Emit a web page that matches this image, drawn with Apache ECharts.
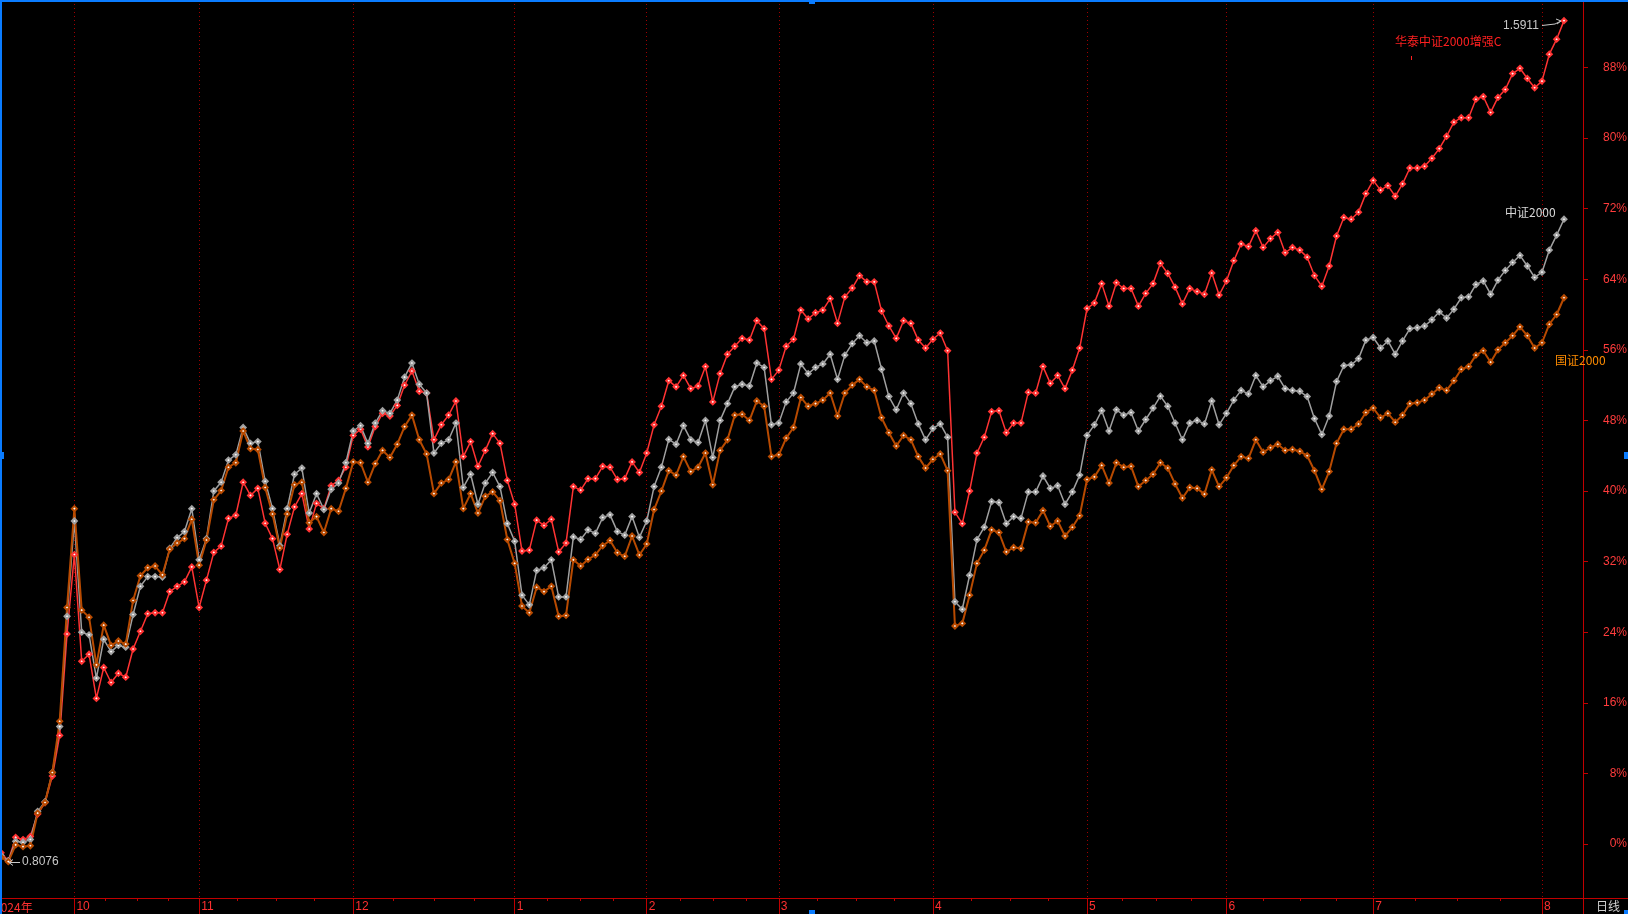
<!DOCTYPE html>
<html><head><meta charset="utf-8">
<script src="https://cdn.jsdelivr.net/npm/echarts@6/dist/echarts.min.js"></script>
<style>html,body{margin:0;padding:0;background:#000;overflow:hidden}#c{width:1628px;height:914px}</style>
</head><body><div id="c"></div>
<script>
// month labels on the x axis and number of trading days shown per month
const monthLabels = ['2024年','10','11','12','1','2','3','4','5','6','7','8'];
const monthDays = [10,17,21,22,18,18,21,21,19,20,23,4];
// y-axis tick values (percent)
const yTicks = [0,8,16,24,32,40,48,56,64,72,80,88];
// series names
const names = ['华泰中证2000增强C','中证2000','国证2000'];
// 华泰中证2000增强C (%)
const huatai = [
-1.0,-1.9,0.75,0.5,0.86,3.4,4.7,7.7,12.3,23.8,
32.8,20.7,21.5,16.5,20.0,18.3,19.35,18.9,22.1,24.1,26.1,26.2,26.2,28.6,29.2,29.7,31.4,
26.8,29.9,33.05,33.75,36.9,37.25,41.0,39.5,40.3,36.35,34.6,31.1,35.1,38.2,39.7,35.7,38.6,38.0,40.6,41.2,42.7,
46.3,47.0,45.0,47.3,48.8,48.5,49.7,52.0,53.6,51.3,51.1,45.8,47.5,48.6,50.2,43.9,45.6,42.8,44.6,46.5,45.4,41.2,
38.5,33.2,33.3,36.7,36.1,36.8,33.1,34.1,40.5,40.1,41.4,41.4,42.8,42.7,41.3,41.4,43.3,42.1,
44.3,47.5,49.6,52.5,51.8,53.1,51.6,51.9,54.1,50.1,53.3,55.5,56.4,57.3,57.1,59.3,58.4,52.65,
53.7,56.4,57.2,60.5,59.5,60.2,60.5,61.8,59.0,62.0,63.0,64.4,63.7,63.7,60.4,58.7,57.3,59.3,59.0,57.1,56.2,
57.2,57.9,55.9,37.6,36.3,40.0,44.3,46.1,49.0,49.1,46.6,47.7,47.7,51.2,51.1,54.1,52.2,53.1,51.6,53.7,56.2,
60.7,61.3,63.5,60.95,63.6,62.95,62.95,60.95,62.4,63.5,65.8,64.65,63.1,61.2,62.95,62.6,62.3,64.7,62.2,
63.8,66.1,68.0,67.7,69.5,67.6,68.6,69.3,67.0,67.6,67.3,66.5,64.4,63.2,65.5,68.9,71.0,70.8,71.6,73.7,
75.2,74.1,74.6,73.4,74.8,76.6,76.6,76.8,77.7,78.8,80.2,81.8,82.3,82.3,84.4,84.7,82.9,84.6,85.5,87.3,87.9,86.75,85.7,
86.45,89.5,91.2,93.3];
// 中证2000 (%)
const csi2000 = [
-1.3,-1.9,0.3,0.2,0.5,3.7,4.8,8.1,13.3,25.8,
36.6,24.0,23.7,18.8,23.2,21.8,22.5,22.3,26.0,29.2,30.3,30.3,30.25,33.5,34.7,35.4,38.0,
32.2,34.6,40.0,41.0,43.5,44.1,47.2,45.4,45.6,41.1,38.0,33.8,38.0,41.9,42.6,37.5,39.7,37.9,40.2,40.9,43.2,
46.8,47.4,45.4,47.7,49.1,48.8,50.3,52.9,54.5,52.1,51.1,44.3,45.4,45.8,47.7,40.4,41.9,38.5,40.9,42.1,40.5,36.3,
34.3,28.2,27.1,31.0,31.3,32.2,28.0,28.0,34.8,34.5,35.6,35.2,37.0,37.3,35.4,35.0,37.1,34.75,
36.6,40.5,42.7,45.85,45.3,47.4,45.8,45.5,48.0,43.8,48.0,49.9,51.8,52.1,51.9,54.5,54.0,47.5,
47.7,50.1,51.1,54.4,53.3,54.0,54.4,55.5,52.65,55.4,56.7,57.6,56.8,57.0,53.8,50.7,49.2,51.1,49.9,47.6,45.8,
47.1,47.6,46.1,27.45,26.6,30.45,34.5,35.9,38.8,38.7,36.3,37.1,36.9,39.9,39.9,41.7,40.3,40.6,38.5,39.9,41.8,
46.3,47.5,49.1,46.8,49.2,48.6,48.9,46.8,48.1,49.4,50.75,49.6,47.7,45.8,47.7,48.0,47.6,50.2,47.5,
48.8,50.3,51.4,51.0,53.1,51.8,52.5,53.0,51.6,51.4,51.3,50.7,48.2,46.4,48.5,52.4,54.2,54.3,55.0,57.1,
57.4,56.2,57.0,55.5,57.0,58.4,58.5,58.7,59.4,60.3,59.6,60.6,61.9,62.0,63.4,63.8,62.3,63.9,65.0,65.9,66.7,65.5,64.2,
64.8,67.3,69.0,70.8];
// 国证2000 (%)
const cn2000 = [
-1.5,-2.0,-0.1,-0.3,-0.2,3.5,4.7,8.1,13.9,26.8,
38.0,26.5,25.7,20.3,24.8,22.5,23.0,22.65,27.6,30.4,31.3,31.5,30.5,33.4,34.1,34.6,36.8,
31.6,34.45,39.0,40.05,42.7,43.2,46.8,44.8,44.7,40.4,37.4,33.55,37.4,40.7,41.0,36.4,37.1,35.3,38.0,37.7,40.3,
43.3,43.2,41.0,43.1,44.6,43.8,45.3,47.3,48.6,45.8,44.2,39.7,40.9,41.3,43.3,38.0,39.7,37.5,39.4,39.9,38.9,34.5,
31.8,26.97,26.2,29.1,28.6,29.2,25.8,25.9,32.2,31.5,32.25,32.75,33.8,34.4,33.0,32.6,34.9,32.75,
34.0,37.9,40.0,42.3,41.8,43.9,42.2,42.7,44.3,40.7,44.6,45.8,48.6,48.7,48.0,50.2,49.6,43.9,
44.1,46.0,47.2,50.6,49.6,49.9,50.3,51.1,48.5,51.1,52.0,52.65,51.8,51.4,48.3,46.6,45.1,46.3,45.8,43.9,42.6,
43.6,44.2,42.3,24.7,25.0,28.2,31.8,33.3,35.6,35.3,33.1,33.6,33.5,36.5,36.4,37.8,36.0,36.6,34.9,35.9,37.2,
41.3,41.6,42.9,40.9,43.2,42.7,42.8,40.5,41.2,41.9,43.2,42.6,40.8,39.2,40.4,40.3,39.65,42.4,40.5,
41.5,42.9,43.9,43.7,45.8,44.4,44.9,45.3,44.6,44.7,44.5,44.0,42.3,40.2,42.2,45.4,47.0,47.0,47.6,48.9,
49.4,48.3,48.8,47.8,48.6,49.9,50.0,50.3,51.0,51.7,51.4,52.5,53.8,54.1,55.4,55.9,54.6,56.0,56.8,57.6,58.6,57.6,56.2,
56.8,58.9,60.0,61.9];
// price annotations
const maxLabel = '1.5911';
const minLabel = '0.8076';
const periodLabel = '日线';

// build categories and month-start indices
const categories = [];
const monthStart = [];
let idx = 0;
monthDays.forEach((n, m) => {
  monthStart.push(idx);
  for (let k = 0; k < n; k++) { categories.push(monthLabels[m] + '-' + (k + 1)); idx++; }
});
const startSet = new Set(monthStart.slice(1));
const labelOf = {};
monthStart.forEach((s, m) => { labelOf[s] = monthLabels[m]; });
// quarter-month minor ticks (Oct..Jul)
const quarterTicks = [];
for (let m = 1; m < monthStart.length - 1; m++) {
  const s = monthStart[m], e = monthStart[m + 1];
  for (let k = 1; k < 4; k++) quarterTicks.push(s + k * (e - s) / 4);
}

const RED = '#ff3333', GRAY = '#a0a0a0', ORANGE = '#b84a00';
const AXIS = '#c00000';
const FONT = 'Liberation Sans, Noto Sans CJK SC, sans-serif';
const CJK = 'Noto Sans CJK SC, sans-serif';

function mkSeries(name, data, color, w) {
  return {
    name, type: 'line', data, xAxisIndex: 0, yAxisIndex: 0,
    symbol: 'diamond', symbolSize: 5, showSymbol: true, showAllSymbol: true,
    lineStyle: { color, width: w },
    itemStyle: { color: '#ffffff', borderColor: color, borderWidth: 2 },
    emphasis: { disabled: true }, silent: true
  };
}

const chart = echarts.init(document.getElementById('c'), null, { renderer: 'canvas' });
chart.setOption({
  backgroundColor: '#000000',
  animation: false,
  grid: { left: 1, right: 64, top: 0, bottom: 16, containLabel: false, outerBoundsMode: 'none' },
  xAxis: [{
    type: 'category', data: categories, boundaryGap: false, position: 'bottom',
    axisLine: { show: true, onZero: false, lineStyle: { color: AXIS, width: 1 } },
    axisTick: { show: true, interval: (i) => startSet.has(i), length: 16, lineStyle: { color: AXIS } },
    axisLabel: {
      show: true, interval: (i) => startSet.has(i), formatter: (v, i) => labelOf[i] || '',
      color: '#ff3030', fontSize: 12, fontFamily: FONT, align: 'left', margin: 3, padding: [0, 0, 0, 2]
    },
    splitLine: { show: true, interval: (i) => startSet.has(i), lineStyle: { color: '#a00000', width: 1, type: [1, 3] } }
  }, {
    type: 'value', min: 0, max: categories.length - 1, position: 'bottom',
    axisLine: { show: false, onZero: false },
    axisTick: { show: true, customValues: quarterTicks, length: 3, lineStyle: { color: AXIS } },
    axisLabel: { show: false },
    splitLine: { show: false }
  }],
  yAxis: [{
    type: 'value', position: 'right', offset: 19, min: -6.12, max: 95.64,
    axisLine: { show: true, onZero: false, lineStyle: { color: AXIS, width: 1 } },
    axisTick: { show: true, customValues: yTicks, length: 5, lineStyle: { color: AXIS } },
    axisLabel: { show: true, customValues: yTicks, formatter: '{value}%', color: '#ff3c3c', fontSize: 12, fontFamily: FONT, align: 'right', margin: 44 },
    splitLine: { show: false }
  }],
  series: [
    mkSeries(names[0], huatai, RED, 1.5),
    mkSeries(names[1], csi2000, GRAY, 1.5),
    mkSeries(names[2], cn2000, ORANGE, 2)
  ],
  graphic: [
    // blue selection frame
    { type: 'rect', shape: { x: 0, y: 0, width: 2, height: 914 }, style: { fill: '#0a7cff' }, z: 100 },
    { type: 'rect', shape: { x: 0, y: 0, width: 1628, height: 2 }, style: { fill: '#0a7cff' }, z: 100 },
    { type: 'rect', shape: { x: 0, y: 452, width: 4, height: 7 }, style: { fill: '#0a7cff' }, z: 100 },
    { type: 'rect', shape: { x: 1624, y: 452, width: 4, height: 7 }, style: { fill: '#0a7cff' }, z: 100 },
    { type: 'rect', shape: { x: 809, y: 0, width: 6, height: 4 }, style: { fill: '#0a7cff' }, z: 100 },
    { type: 'rect', shape: { x: 809, y: 910, width: 6, height: 4 }, style: { fill: '#0a7cff' }, z: 100 },
    { type: 'rect', shape: { x: 1624, y: 910, width: 4, height: 4 }, style: { fill: '#0a7cff' }, z: 100 },
    // full-width bottom rule and divider
    { type: 'line', shape: { x1: 0, y1: 898.5, x2: 1628, y2: 898.5 }, style: { stroke: AXIS, lineWidth: 1 }, z: 50 },
    { type: 'line', shape: { x1: 1583.5, y1: 898, x2: 1583.5, y2: 914 }, style: { stroke: AXIS, lineWidth: 1 }, z: 50 },
    { type: 'text', x: -6, y: 901, style: { text: monthLabels[0], fill: '#ff3030', font: '12px ' + CJK }, z: 50 },
    { type: 'text', x: 1596, y: 900, style: { text: periodLabel, fill: '#d0d0d0', font: '12px ' + CJK }, z: 50 },
    // series labels
    { type: 'text', x: 1395, y: 35, style: { text: names[0], fill: '#ff2020', font: '12px ' + CJK }, z: 60 },
    { type: 'line', shape: { x1: 1411.5, y1: 56, x2: 1411.5, y2: 60 }, style: { stroke: '#ff2020', lineWidth: 1 }, z: 60 },
    { type: 'text', x: 1505, y: 206, style: { text: names[1], fill: '#d8d8d8', font: '12px ' + CJK }, z: 60 },
    { type: 'text', x: 1555, y: 354, style: { text: names[2], fill: '#ff8c00', font: '12px ' + CJK }, z: 60 },
    // max / min price notes
    { type: 'text', x: 1503, y: 20, style: { text: maxLabel, fill: '#c8c8c8', font: '12px ' + FONT }, z: 60 },
    { type: 'polyline', shape: { points: [[1542, 25.5], [1555, 24], [1561, 21]] }, style: { stroke: '#c8c8c8', lineWidth: 1, fill: null }, z: 60 },
    { type: 'polyline', shape: { points: [[1556, 19], [1561, 21], [1557, 24]] }, style: { stroke: '#c8c8c8', lineWidth: 1, fill: null }, z: 60 },
    { type: 'line', shape: { x1: 9, y1: 862.5, x2: 20, y2: 862.5 }, style: { stroke: '#c8c8c8', lineWidth: 1 }, z: 60 },
    { type: 'polyline', shape: { points: [[13, 859.5], [9, 862.5], [13, 865.5]] }, style: { stroke: '#c8c8c8', lineWidth: 1, fill: null }, z: 60 },
    { type: 'text', x: 22, y: 856, style: { text: minLabel, fill: '#c8c8c8', font: '12px ' + FONT }, z: 60 }
  ]
});
</script>
</body></html>
